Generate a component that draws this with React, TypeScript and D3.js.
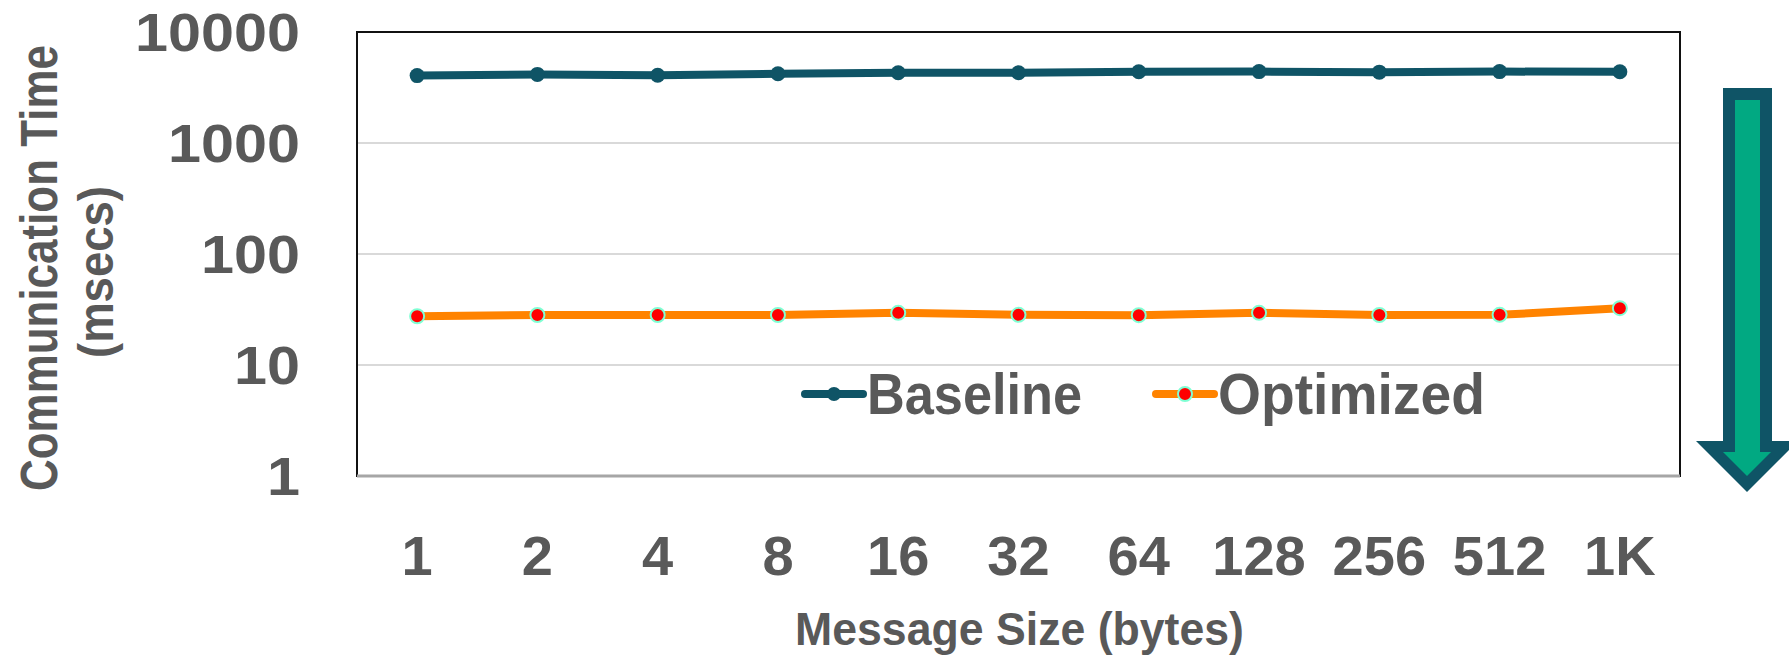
import React, { useEffect, useRef } from 'react';
import * as d3 from 'd3';

const categories = ['1', '2', '4', '8', '16', '32', '64', '128', '256', '512', '1K'];
const baseline = [4050, 4150, 4080, 4200, 4300, 4300, 4380, 4400, 4350, 4400, 4380];
const optimized = [27.5, 28.2, 28.2, 28.2, 29.5, 28.3, 28.1, 29.5, 28.2, 28.3, 32.5];
const yTicks = [1, 10, 100, 1000, 10000];

const width = 1789;
const height = 655;
const plot = { left: 357, right: 1680, top: 32, bottom: 476 };

const textColor = '#595959';
const baseColor = '#0F5466';
const optColor = '#FF8300';
const font = "'Liberation Sans', Arial, sans-serif";

export default function App() {
  const svgRef = useRef<SVGSVGElement | null>(null);

  useEffect(() => {
    const svg = d3.select(svgRef.current);
    svg.selectAll('*').remove();

    const x = d3
      .scalePoint<string>()
      .domain(categories)
      .range([plot.left, plot.right])
      .padding(0.5);
    const y = d3.scaleLog().domain([1, 10000]).range([plot.bottom, plot.top]);

    // gridlines
    svg
      .append('g')
      .selectAll('line')
      .data(yTicks.slice(1, -1))
      .enter()
      .append('line')
      .attr('x1', plot.left)
      .attr('x2', plot.right)
      .attr('y1', (d) => y(d))
      .attr('y2', (d) => y(d))
      .style('stroke', '#D9D9D9')
      .style('stroke-width', 2);

    // plot frame
    svg
      .append('rect')
      .attr('x', plot.left)
      .attr('y', plot.top)
      .attr('width', plot.right - plot.left)
      .attr('height', plot.bottom - plot.top)
      .style('fill', 'none')
      .style('stroke', '#111')
      .style('stroke-width', 2);
    svg
      .append('line')
      .attr('x1', plot.left)
      .attr('x2', plot.right)
      .attr('y1', plot.bottom)
      .attr('y2', plot.bottom)
      .style('stroke', '#A6A6A6')
      .style('stroke-width', 3);

    // y tick labels
    const yfs = 53;
    svg
      .append('g')
      .selectAll('text')
      .data(yTicks)
      .enter()
      .append('text')
      .attr('x', 300)
      .attr('y', (d) => y(d) + yfs * 0.36)
      .attr('text-anchor', 'end')
      .attr('textLength', (d) => String(d).length * 33)
      .attr('lengthAdjust', 'spacingAndGlyphs')
      .style('font-family', font)
      .style('font-weight', 700)
      .style('font-size', `${yfs}px`)
      .style('fill', textColor)
      .text((d) => String(d));

    // x tick labels
    const xfs = 56;
    svg
      .append('g')
      .selectAll('text')
      .data(categories)
      .enter()
      .append('text')
      .attr('x', (d) => x(d) as number)
      .attr('y', 555 + xfs * 0.36)
      .attr('text-anchor', 'middle')
      .style('font-family', font)
      .style('font-weight', 700)
      .style('font-size', `${xfs}px`)
      .style('fill', textColor)
      .text((d) => d);

    const line = d3
      .line<number>()
      .x((_, i) => x(categories[i]) as number)
      .y((d) => y(d));

    // baseline series
    svg
      .append('path')
      .datum(baseline)
      .attr('d', line)
      .style('fill', 'none')
      .style('stroke', baseColor)
      .style('stroke-width', 8);
    svg
      .append('g')
      .selectAll('circle')
      .data(baseline)
      .enter()
      .append('circle')
      .attr('cx', (_, i) => x(categories[i]) as number)
      .attr('cy', (d) => y(d))
      .attr('r', 7.5)
      .style('fill', baseColor);

    // optimized series
    svg
      .append('path')
      .datum(optimized)
      .attr('d', line)
      .style('fill', 'none')
      .style('stroke', optColor)
      .style('stroke-width', 8);
    svg
      .append('g')
      .selectAll('circle')
      .data(optimized)
      .enter()
      .append('circle')
      .attr('cx', (_, i) => x(categories[i]) as number)
      .attr('cy', (d) => y(d))
      .attr('r', 7)
      .style('fill', '#FF0000')
      .style('stroke', '#7FFFD4')
      .style('stroke-width', 2);

    // legend
    const legend = [
      { name: 'Baseline', x: 805, len: 215, color: baseColor, dot: baseColor, ring: 'none' },
      { name: 'Optimized', x: 1156, len: 267, color: optColor, dot: '#FF0000', ring: '#7FFFD4' },
    ];
    const ly = 394;
    legend.forEach((l) => {
      const g = svg.append('g');
      g.append('line')
        .attr('x1', l.x)
        .attr('x2', l.x + 58)
        .attr('y1', ly)
        .attr('y2', ly)
        .style('stroke', l.color)
        .style('stroke-width', 8)
        .style('stroke-linecap', 'round');
      g.append('circle')
        .attr('cx', l.x + 29)
        .attr('cy', ly)
        .attr('r', 7)
        .style('fill', l.dot)
        .style('stroke', l.ring)
        .style('stroke-width', 2);
      g.append('text')
        .attr('x', l.x + 62)
        .attr('y', 414)
        .attr('textLength', l.len)
        .attr('lengthAdjust', 'spacingAndGlyphs')
        .style('font-family', font)
        .style('font-weight', 700)
        .style('font-size', '57px')
        .style('fill', textColor)
        .text(l.name);
    });

    // axis titles
    svg
      .append('text')
      .attr('x', (795 + 1244) / 2)
      .attr('y', 645)
      .attr('text-anchor', 'middle')
      .attr('textLength', 449)
      .attr('lengthAdjust', 'spacingAndGlyphs')
      .style('font-family', font)
      .style('font-weight', 700)
      .style('font-size', '47px')
      .style('fill', textColor)
      .text('Message Size (bytes)');

    svg
      .append('text')
      .attr('transform', 'translate(57,268) rotate(-90)')
      .attr('text-anchor', 'middle')
      .attr('textLength', 446)
      .attr('lengthAdjust', 'spacingAndGlyphs')
      .style('font-family', font)
      .style('font-weight', 700)
      .style('font-size', '51px')
      .style('fill', textColor)
      .text('Communication Time');
    svg
      .append('text')
      .attr('transform', 'translate(113,272) rotate(-90)')
      .attr('text-anchor', 'middle')
      .attr('textLength', 172)
      .attr('lengthAdjust', 'spacingAndGlyphs')
      .style('font-family', font)
      .style('font-weight', 700)
      .style('font-size', '50px')
      .style('fill', textColor)
      .text('(msecs)');

    // big down arrow on the right
    const outer: [number, number][] = [
      [1723, 88], [1772, 88], [1772, 441], [1798, 441],
      [1747, 492], [1696, 441], [1723, 441],
    ];
    const inner: [number, number][] = [
      [1735, 100], [1760, 100], [1760, 452], [1771, 452],
      [1747, 476], [1723, 452], [1735, 452],
    ];
    svg
      .append('polygon')
      .attr('points', outer.map((p) => p.join(',')).join(' '))
      .style('fill', baseColor);
    svg
      .append('polygon')
      .attr('points', inner.map((p) => p.join(',')).join(' '))
      .style('fill', '#01A982');
  }, []);

  return (
    <div style={{ position: 'absolute', left: 0, top: 0 }}>
      <svg width={width} height={height} ref={svgRef} style={{ display: 'block' }} />
    </div>
  );
}
